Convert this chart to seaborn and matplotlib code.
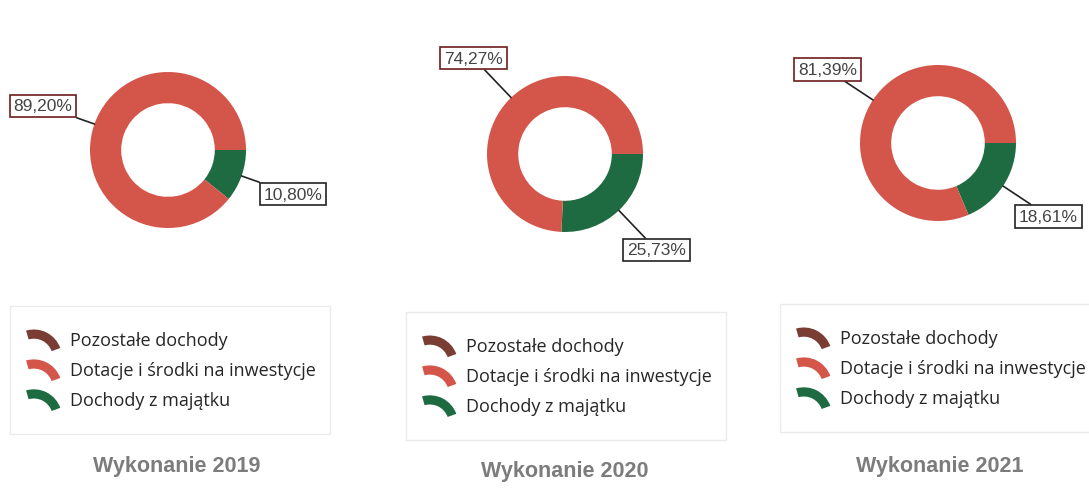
import numpy as np
import seaborn as sns
import matplotlib.pyplot as plt
from matplotlib.patches import Wedge, Patch
from matplotlib.legend_handler import HandlerPatch

sns.set_theme(style='white')
plt.rcParams['font.family'] = ['Liberation Sans', 'DejaVu Sans']

years = ['2019', '2020', '2021']
categories = ['Pozostałe dochody', 'Dotacje i środki na inwestycje', 'Dochody z majątku']
pozostale = [0.0, 0.0, 0.0]
dotacje = [89.20, 74.27, 81.39]
majatek = [10.80, 25.73, 18.61]

colors = {'Pozostałe dochody': '#7a3d33',
          'Dotacje i środki na inwestycje': '#d4554a',
          'Dochody z majątku': '#1e6b42'}
label_edge = {'Dotacje i środki na inwestycje': '#6e1c1c',
              'Dochody z majątku': '#222222'}

W, H = 1089, 489
fig = plt.figure(figsize=(W / 100, H / 100), dpi=100)

# donut centres / legend boxes in pixels
centres = [(168, 151), (565, 155), (938, 144)]
legend_boxes = [(10, 307, 320), (406, 313, 320), (780, 305, 330)]
title_pos = [(177, 467), (565, 472), (940, 467)]
R_PX = 78
HALF = 150


class HandlerArc(HandlerPatch):
    def create_artists(self, legend, orig_handle, xdescent, ydescent,
                       width, height, fontsize, trans):
        r = 1.04 * width
        cx = -xdescent - 0.02 * width
        cy = -ydescent + height * 1.05 - r
        p = Wedge((cx, cy), r, 20, 106, width=0.34 * width,
                  facecolor=orig_handle.get_facecolor(), edgecolor='none',
                  transform=trans)
        return [p]


def fmt(v):
    return f'{v:.2f}%'.replace('.', ',')


for i, yr in enumerate(years):
    cx, cy = centres[i]
    ax = fig.add_axes([(cx - HALF) / W, 1 - (cy + HALF) / H, 2 * HALF / W, 2 * HALF / H])
    vals = [majatek[i], pozostale[i], dotacje[i]]
    names = ['Dochody z majątku', 'Pozostałe dochody', 'Dotacje i środki na inwestycje']
    wedges, _ = ax.pie(vals, colors=[colors[n] for n in names], startangle=0,
                       counterclock=False, radius=1.0,
                       wedgeprops=dict(width=0.4, edgecolor='none'))
    L = HALF / R_PX
    ax.set_xlim(-L, L)
    ax.set_ylim(-L, L)
    ax.set_aspect('equal')
    ax.axis('off')

    for w, n, v in zip(wedges, names, vals):
        if v <= 0:
            continue
        mid = np.deg2rad((w.theta1 + w.theta2) / 2)
        xy = (np.cos(mid), np.sin(mid))
        xt = (1.7 * np.cos(mid), 1.7 * np.sin(mid))
        ax.annotate(fmt(v), xy=xy, xytext=xt, ha='center', va='center',
                    fontsize=12.5, color='#444444',
                    bbox=dict(boxstyle='square,pad=0.22', fc='white',
                              ec=label_edge[n], lw=1.2),
                    arrowprops=dict(arrowstyle='-', color='#222222', lw=1.2,
                                    shrinkA=0, shrinkB=0))

    handles = [Patch(facecolor=colors[c]) for c in categories]
    lx, ly, lw = legend_boxes[i]
    leg = ax.legend(handles, categories, loc='upper left',
                    bbox_to_anchor=(lx / W, 1 - ly / H, lw / W, 0.0),
                    bbox_transform=fig.transFigure, mode='expand',
                    handler_map={Patch: HandlerArc()},
                    frameon=True, fancybox=False, edgecolor='#e6e6e6',
                    prop={'family': ['Open Sans', 'DejaVu Sans'], 'size': 13},
                    handlelength=1.5, handleheight=1.15, handletextpad=0.48,
                    labelspacing=0.6, borderpad=1.35, borderaxespad=0)
    leg.get_frame().set_linewidth(1.0)

    tx, ty = title_pos[i]
    fig.text(tx / W, 1 - ty / H, f'Wykonanie {yr}', ha='center', va='center',
             fontsize=15.5, fontweight='bold', color='#7c7c7c')

fig.savefig('out.png', dpi=100, facecolor='white')
